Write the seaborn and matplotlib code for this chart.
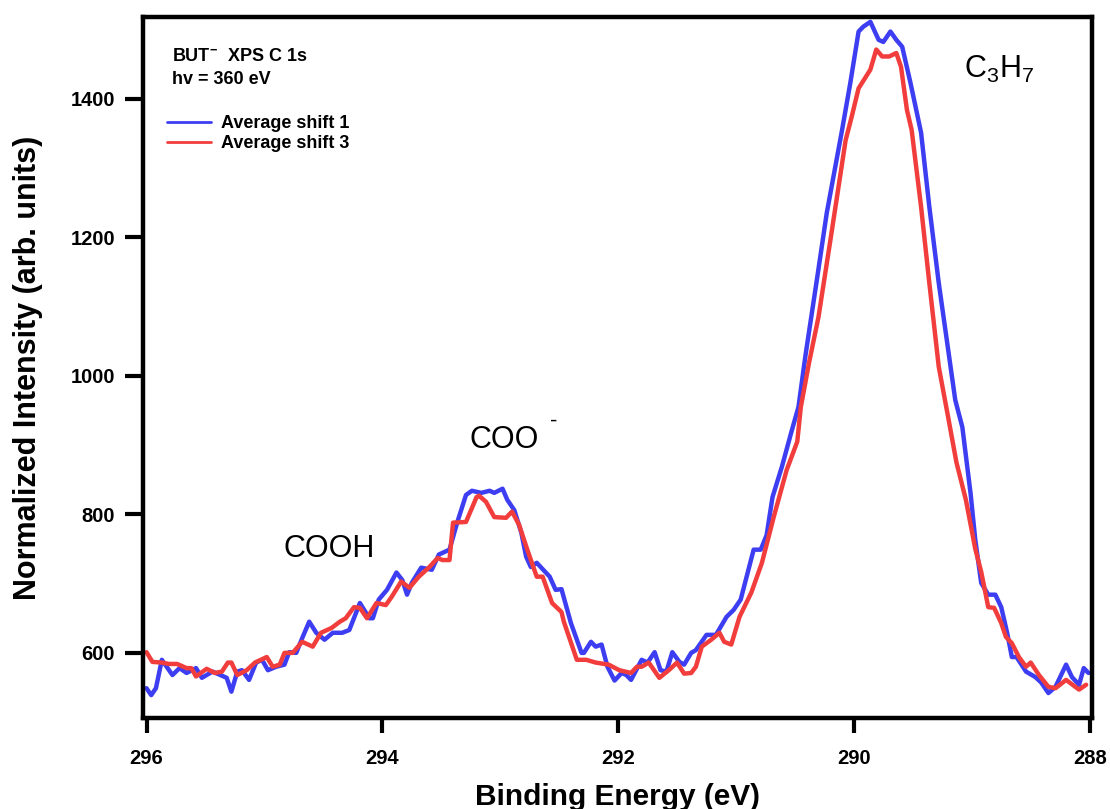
import numpy as np
import pandas as pd
import matplotlib
matplotlib.use("Agg")
import matplotlib.pyplot as plt
import seaborn as sns

# binding energy (eV) and intensity, series "Average shift 1"
energy_shift1 = [
    296.00, 295.96, 295.92, 295.87, 295.78, 295.72, 295.66, 295.58, 295.53, 295.44,
    295.32, 295.28, 295.23, 295.19, 295.13, 295.07, 295.02, 294.97, 294.90, 294.83,
    294.79, 294.73, 294.68, 294.62, 294.56, 294.49, 294.42, 294.34, 294.28, 294.19,
    294.11, 294.08, 294.03, 293.96, 293.88, 293.83, 293.79, 293.75, 293.67, 293.58,
    293.52, 293.43, 293.37, 293.35, 293.29, 293.24, 293.16, 293.09, 293.05, 292.98,
    292.94, 292.88, 292.82, 292.78, 292.74, 292.69, 292.58, 292.53, 292.48, 292.40,
    292.31, 292.29, 292.23, 292.19, 292.14, 292.09, 292.03, 291.97, 291.93, 291.89,
    291.80, 291.75, 291.69, 291.64, 291.59, 291.54, 291.48, 291.44, 291.38, 291.34,
    291.25, 291.17, 291.08, 291.02, 290.96, 290.91, 290.85, 290.79, 290.74, 290.69,
    290.61, 290.53, 290.47, 290.41, 290.31, 290.23, 290.10, 290.03, 289.96, 289.92,
    289.86, 289.79, 289.75, 289.69, 289.64, 289.59, 289.52, 289.43, 289.36, 289.28,
    289.22, 289.14, 289.08, 289.01, 288.97, 288.92, 288.86, 288.80, 288.75, 288.70,
    288.66, 288.62, 288.54, 288.46, 288.41, 288.35, 288.29, 288.20, 288.15, 288.09,
    288.05, 288.01,
]
intensity_shift1 = [
    549, 539, 549, 590, 568, 578, 571, 578, 564, 573,
    564, 544, 573, 575, 561, 586, 590, 575, 580, 583,
    601, 600, 621, 645, 629, 619, 629, 629, 633, 672,
    650, 650, 677, 691, 716, 705, 684, 701, 723, 720,
    742, 749, 785, 796, 828, 834, 831, 834, 831, 837,
    821, 806, 773, 739, 724, 730, 710, 691, 692, 643,
    600, 600, 616, 609, 612, 580, 560, 571, 568, 561,
    590, 586, 601, 575, 573, 601, 587, 583, 600, 604,
    626, 626, 652, 662, 677, 710, 749, 749, 770, 825,
    869, 919, 955, 1030, 1143, 1235, 1355, 1423, 1497, 1504,
    1511, 1485, 1482, 1497, 1485, 1475, 1423, 1351, 1244, 1134,
    1062, 965, 926, 830, 763, 701, 684, 684, 666, 629,
    594, 594, 573, 565, 557, 542, 551, 583, 565, 554,
    578, 571,
]

# series "Average shift 3"
energy_shift3 = [
    296.00, 295.95, 295.87, 295.81, 295.74, 295.66, 295.62, 295.58, 295.49, 295.42,
    295.36, 295.31, 295.28, 295.23, 295.15, 295.08, 294.98, 294.93, 294.87, 294.83,
    294.76, 294.68, 294.59, 294.52, 294.43, 294.36, 294.31, 294.24, 294.19, 294.13,
    294.05, 293.97, 293.92, 293.84, 293.77, 293.69, 293.60, 293.53, 293.49, 293.43,
    293.40, 293.29, 293.20, 293.18, 293.12, 293.05, 292.95, 292.90, 292.84, 292.77,
    292.69, 292.64, 292.56, 292.48, 292.46, 292.35, 292.27, 292.19, 292.08, 291.99,
    291.89, 291.84, 291.80, 291.74, 291.65, 291.57, 291.50, 291.44, 291.38, 291.34,
    291.29, 291.21, 291.14, 291.10, 291.04, 290.97, 290.87, 290.78, 290.68, 290.57,
    290.48, 290.45, 290.38, 290.30, 290.19, 290.07, 290.02, 289.96, 289.86, 289.81,
    289.76, 289.70, 289.64, 289.60, 289.55, 289.51, 289.43, 289.36, 289.28, 289.20,
    289.13, 289.05, 288.97, 288.92, 288.86, 288.81, 288.75, 288.71, 288.66, 288.60,
    288.54, 288.50, 288.43, 288.35, 288.29, 288.20, 288.09, 288.03,
]
intensity_shift3 = [
    601, 587, 586, 584, 584, 578, 578, 566, 577, 571,
    573, 586, 586, 568, 575, 586, 594, 580, 583, 600,
    600, 616, 609, 629, 636, 645, 650, 666, 665, 650,
    672, 669, 681, 703, 694, 710, 724, 737, 734, 734,
    788, 789, 825, 827, 818, 796, 795, 804, 785, 749,
    710, 710, 672, 659, 645, 590, 590, 586, 583, 575,
    571, 580, 580, 586, 564, 575, 586, 570, 571, 580,
    609, 619, 629, 616, 612, 652, 687, 730, 796, 864,
    905, 955, 1019, 1085, 1206, 1340, 1373, 1415, 1442, 1471,
    1461, 1461, 1466, 1446, 1384, 1355, 1244, 1134, 1013, 940,
    875, 821, 750, 717, 666, 665, 643, 623, 614, 594,
    580, 586, 568, 551, 549, 561, 547, 554,
]

series_names = ["Average shift 1", "Average shift 3"]
series_colors = ["#3d3df2", "#f23d3d"]

df = pd.concat([
    pd.DataFrame({"energy": energy_shift1, "intensity": intensity_shift1, "series": series_names[0]}),
    pd.DataFrame({"energy": energy_shift3, "intensity": intensity_shift3, "series": series_names[1]}),
])

sns.set_theme(style="white")
plt.rcParams["font.family"] = ["Liberation Sans", "DejaVu Sans"]
plt.rcParams["mathtext.default"] = "regular"
plt.rcParams["text.color"] = "black"
plt.rcParams["axes.labelcolor"] = "black"

fig = plt.figure(figsize=(11.1, 8.09), dpi=100)
ax = fig.add_axes([0.1288, 0.1125, 0.855, 0.8665])

sns.lineplot(data=df, x="energy", y="intensity", hue="series",
             palette=dict(zip(series_names, series_colors)),
             estimator=None, sort=False, linewidth=3.2, ax=ax, legend=False)

ax.set_xlim(296.03, 287.98)
ax.set_ylim(506, 1518)
ax.set_xticks([296, 294, 292, 290, 288])
ax.set_yticks([600, 800, 1000, 1200, 1400])

for s in ax.spines.values():
    s.set_color("black")
    s.set_linewidth(3.2)

ax.tick_params(axis="x", direction="out", length=11, width=3, pad=11,
               bottom=True, top=False, labelsize=14.5, colors="black")
ax.tick_params(axis="y", direction="out", length=13, width=3, pad=7,
               left=True, right=False, labelsize=14.5, colors="black")
for lab in ax.get_xticklabels() + ax.get_yticklabels():
    lab.set_fontweight("bold")

ax.set_xlabel("Binding Energy (eV)", fontsize=21.5, fontweight="bold", labelpad=11, color="black")
ax.set_ylabel("Normalized Intensity (arb. units)", fontsize=22, fontweight="bold", labelpad=20, color="black")

# peak labels
ax.text(294.45, 750, "COOH", fontsize=22, ha="center", va="center", color="black")
ax.text(292.97, 908, "COO", fontsize=22, ha="center", va="center", color="black")
ax.text(292.55, 934, "-", fontsize=16, ha="center", va="center", color="black")
ax.text(288.77, 1442, "C$_3$H$_7$", fontsize=22, ha="center", va="center", color="black")

# header text and legend
ax.text(0.031, 0.937, "BUT$^{-}$  XPS C 1s", transform=ax.transAxes,
        fontsize=13, fontweight="bold", ha="left", va="baseline", color="black")
ax.text(0.031, 0.904, "hv = 360 eV", transform=ax.transAxes,
        fontsize=13, fontweight="bold", ha="left", va="baseline", color="black")

handles = [plt.Line2D([], [], color=c, linewidth=2) for c in series_colors]
leg = ax.legend(handles, series_names, loc="upper left", bbox_to_anchor=(0.018, 0.87),
                frameon=False, handlelength=2.4, handletextpad=0.6, labelspacing=0.15,
                borderaxespad=0, prop={"size": 13, "weight": "bold"})
for t in leg.get_texts():
    t.set_color("black")

fig.savefig("out.png", dpi=100)
